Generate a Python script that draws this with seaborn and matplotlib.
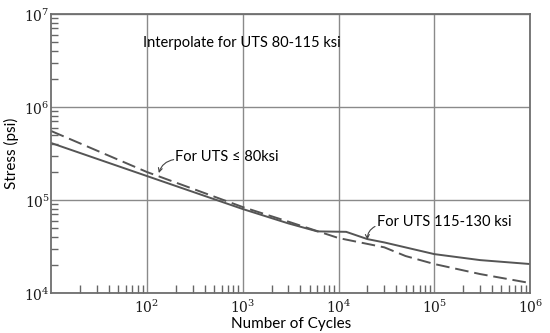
import numpy as np
import pandas as pd
import matplotlib
matplotlib.use('Agg')
import matplotlib.pyplot as plt
import matplotlib.ticker as mticker
import seaborn as sns

# cycles / stress values
cycles_hi = [10, 100, 1000, 3000, 6000, 12000, 20000, 30000, 100000, 300000, 1000000]
stress_hi = [410000, 181000, 80000, 56000, 46000, 45500, 38000, 35000, 26200, 22600, 20500]

cycles_lo = [10, 100, 1000, 3000, 10000, 30000, 50000, 100000, 300000, 1000000]
stress_lo = [552000, 200000, 84000, 58500, 39000, 31000, 25000, 20500, 16000, 12800]

x_ticks = [1e2, 1e3, 1e4, 1e5, 1e6]
y_ticks = [1e4, 1e5, 1e6, 1e7]

sns.set_style('white')
plt.rcParams['font.family'] = ['Lato', 'DejaVu Sans']
plt.rcParams['mathtext.fontset'] = 'dejavuserif'

fig = plt.figure(figsize=(5.5, 3.33), dpi=100)
ax = fig.add_axes([0.093, 0.12, 0.871, 0.838])

line_col = '#555555'
sns.lineplot(x=cycles_hi, y=stress_hi, ax=ax, color=line_col, lw=1.4)
sns.lineplot(x=cycles_lo, y=stress_lo, ax=ax, color=line_col, lw=1.4,
             linestyle=(0, (7, 3)))

ax.set_xscale('log')
ax.set_yscale('log')
ax.set_xlim(10, 1e6)
ax.set_ylim(1e4, 1e7)

ax.set_xticks(x_ticks)
ax.set_yticks(y_ticks)
fmt = mticker.FuncFormatter(lambda v, p: r'$10^{%d}$' % round(np.log10(v)))
ax.xaxis.set_major_formatter(fmt)
ax.yaxis.set_major_formatter(fmt)
ax.xaxis.set_minor_locator(mticker.LogLocator(base=10, subs=np.arange(2, 10)))
ax.yaxis.set_minor_locator(mticker.LogLocator(base=10, subs=np.arange(2, 10)))
ax.xaxis.set_minor_formatter(mticker.NullFormatter())
ax.yaxis.set_minor_formatter(mticker.NullFormatter())
ax.tick_params(which='both', bottom=True, left=True, top=False, right=False)
ax.tick_params(which='major', length=0, labelsize=10, labelcolor='#1a1a1a', pad=3)
ax.tick_params(which='minor', direction='in', color='#666666', width=1)
ax.tick_params(axis='x', which='minor', length=6)
ax.tick_params(axis='y', which='minor', length=5)
ax.tick_params(axis='y', which='major', pad=1)

ax.grid(True, which='major', color='#8a8a8a', lw=1)
for s in ax.spines.values():
    s.set_color('#6e6e6e')
    s.set_linewidth(1.3)

ax.set_xlabel('Number of Cycles', fontsize=11, labelpad=2, color='black')
ax.set_ylabel('Stress (psi)', fontsize=11, labelpad=4, color='black')

ax.text(91, 4.87e6, 'Interpolate for UTS 80-115 ksi', fontsize=10.5, ha='left', va='center', color='black')
ax.text(196, 290000, 'For UTS \u2264 80ksi', fontsize=10.5, ha='left', va='center', color='black')
ax.text(24900, 58000, 'For UTS 115-130 ksi', fontsize=10.5, ha='left', va='center', color='black')

arrow = dict(arrowstyle='->', color='#444444', lw=0.8, shrinkA=0, shrinkB=0,
             connectionstyle='arc3,rad=0.3', mutation_scale=7)
ax.annotate('', xy=(133, 195000), xytext=(190, 272000), arrowprops=arrow)
ax.annotate('', xy=(20000, 37500), xytext=(24000, 52000), arrowprops=arrow)

fig.savefig('out.png', dpi=100)
